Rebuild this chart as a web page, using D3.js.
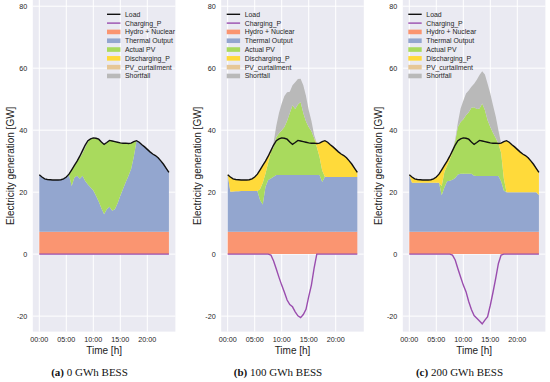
<!DOCTYPE html>
<html><head><meta charset="utf-8">
<script src="https://cdn.jsdelivr.net/npm/d3@7"></script>
<style>body{margin:0;background:#fff}svg{display:block}</style>
</head><body>
<svg id="c" width="550" height="382"></svg>
<script>
// ---------- data (GW), half-hourly ----------
const hours = [0,0.5,1,1.5,2,2.5,3,3.5,4,4.5,5,5.5,6,6.5,7,7.5,8,8.5,9,9.5,10,10.5,11,11.5,12,12.5,13,13.5,14,14.5,15,15.5,16,16.5,17,17.5,18,18.5,19,19.5,20,20.5,21,21.5,22,22.5,23,23.5,24];
const load = [25.6,24.9,24.3,24.1,24.0,23.9,23.9,23.9,24.0,24.3,24.9,25.8,27.2,28.6,30.0,31.6,33.4,35.2,36.6,37.2,37.5,37.4,37.1,36.2,35.4,36.0,36.7,36.5,36.3,36.1,35.9,35.8,35.8,35.7,35.8,36.3,36.6,36.1,35.3,34.6,33.8,33.0,32.3,31.8,31.1,30.1,29.0,27.7,26.4];
const hydroNuclear = [7.2,7.2,7.2,7.2,7.2,7.2,7.2,7.2,7.2,7.2,7.2,7.2,7.2,7.2,7.2,7.2,7.2,7.2,7.2,7.2,7.2,7.2,7.2,7.2,7.2,7.2,7.2,7.2,7.2,7.2,7.2,7.2,7.2,7.2,7.2,7.2,7.2,7.2,7.2,7.2,7.2,7.2,7.2,7.2,7.2,7.2,7.2,7.2,7.2];
const pvCurtailment = [0,0,0,0,0,0,0,0,0,0,0,0,0,0,0,0,0,0,0,0,0,0,0,0,0,0,0,0,0,0,0,0,0,0,0,0,0,0,0,0,0,0,0,0,0,0,0,0,0];

// (a) 0 GWh BESS
const thermalA = [18.4,17.7,17.1,16.9,16.8,16.7,16.7,16.7,16.8,17.1,17.7,18.3,14.8,17.5,18.1,17.1,18.1,16.4,15.3,14.3,13.3,11.6,9.8,7.6,5.7,7.3,8.1,6.8,7.3,9.2,11.6,13.8,16.0,18.0,20.3,24.2,29.4,28.9,28.1,27.4,26.6,25.8,25.1,24.6,23.9,22.9,21.8,20.5,19.2];
const pvA = [0,0,0,0,0,0,0,0,0,0,0,0.3,5.2,3.9,4.7,6.8,7.3,10.8,13.8,15.7,17.0,18.6,20.1,21.4,22.5,21.5,21.4,22.5,21.8,19.7,17.1,14.8,12.6,10.5,8.3,4.9,0,0,0,0,0,0,0,0,0,0,0,0,0];
const dischargeA = [0,0,0,0,0,0,0,0,0,0,0,0,0,0,0,0,0,0,0,0,0,0,0,0,0,0,0,0,0,0,0,0,0,0,0,0,0,0,0,0,0,0,0,0,0,0,0,0,0];
const shortfallA = [0,0,0,0,0,0,0,0,0,0,0,0,0,0,0,0.5,0.8,0.8,0.3,0,0,0,0,0,0,0,0,0,0,0,0,0,0,0,0,0,0,0,0,0,0,0,0,0,0,0,0,0,0];
const chargeA = [0,0,0,0,0,0,0,0,0,0,0,0,0,0,0,0,0,0,0,0,0,0,0,0,0,0,0,0,0,0,0,0,0,0,0,0,0,0,0,0,0,0,0,0,0,0,0,0,0];

// (b) 100 GWh BESS
const thermalB = [18.4,12.9,13.0,13.1,13.1,13.2,13.2,13.2,13.2,13.2,13.2,13.2,10.2,8.8,14.5,16.7,17.2,17.8,18.3,18.3,18.3,18.3,18.3,18.3,18.3,18.3,18.3,18.3,18.3,18.3,18.3,18.3,18.3,18.3,18.3,16.1,17.8,17.7,17.7,17.7,17.7,17.7,17.7,17.7,17.7,17.7,17.7,17.7,17.7];
const pvB = [0,0,0,0,0,0,0,0,0,0,0,0,3.6,7.0,4.3,5.6,8.6,9.5,12.3,13.5,14.5,15.5,17.5,20.0,22.5,21.3,22.8,23.6,20.0,17.3,15.5,14.2,12.0,9.1,5.9,3.7,0,0,0,0,0,0,0,0,0,0,0,0,0];
const dischargeB = [0,4.8,4.1,3.8,3.7,3.5,3.5,3.5,3.6,3.9,4.5,5.4,6.2,5.6,4.0,2.1,0.4,0,0,0,0,0,0,0,0,0,0,0,0,0,0,0,0,1.1,4.4,9.3,11.6,11.2,10.4,9.7,8.9,8.1,7.4,6.9,6.2,5.2,4.1,2.8,1.5];
const shortfallB = [0,0,0,0,0,0,0,0,0,0,0,0,0,0,0,0,0,1.5,3.6,6.5,8.6,10.0,9.2,6.9,6.5,8.7,8.2,7.5,9.0,8.2,5.5,3.3,1.0,0,0,0,0,0,0,0,0,0,0,0,0,0,0,0,0];
const chargeB = [0,0,0,0,0,0,0,0,0,0,0,0,0,0,0,0,-0.3,-2.2,-4.8,-7.5,-10.0,-12.3,-14.8,-16.3,-17.0,-18.6,-19.9,-20.5,-19.5,-17.8,-13.7,-10.0,-4.5,0,0,0,0,0,0,0,0,0,0,0,0,0,0,0,0];

// (c) 200 GWh BESS
const thermalC = [18.4,15.8,15.8,15.8,15.8,15.8,15.8,15.8,15.8,15.8,15.8,15.8,11.8,14.3,16.3,16.5,16.8,17.4,18.5,18.7,18.7,18.7,18.7,18.7,18.1,18.0,18.0,18.0,18.0,18.0,18.0,18.0,18.0,18.0,16.3,13.3,12.8,12.8,12.8,12.8,12.8,12.8,12.8,12.8,12.8,12.8,12.8,12.8,11.9];
const pvC = [0,0,0,0,0,0,0,0,0,0,0,0,3.0,5.0,5.0,6.8,9.0,11.9,15.3,16.7,17.6,18.9,19.9,21.3,22.1,21.6,21.8,23.4,21.3,18.0,15.8,14.0,12.3,10.3,9.3,4.0,0,0,0,0,0,0,0,0,0,0,0,0,0];
const dischargeC = [0,1.9,1.3,1.1,1.0,0.9,0.9,0.9,1.0,1.3,1.9,2.8,5.2,2.1,1.5,1.1,0.4,0,0,0,0,0,0,0,0,0,0,0,0,0,0,0,0,0.2,3.0,11.8,16.6,16.1,15.3,14.6,13.8,13.0,12.3,11.8,11.1,10.1,9.0,7.7,7.3];
const shortfallC = [0,0,0,0,0,0,0,0,0,0,0,0,0,0,0,0,0,0.5,1.5,4.4,6.0,7.0,7.0,6.8,7.6,9.5,10.8,10.4,11.5,11.8,10.8,8.8,7.0,4.3,0,0,0,0,0,0,0,0,0,0,0,0,0,0,0];
const chargeC = [0,0,0,0,0,0,0,0,0,0,0,0,0,0,0,0,-0.3,-1.9,-4.7,-7.4,-10.0,-12.1,-15.3,-17.9,-19.8,-20.7,-21.6,-22.5,-21.3,-20.2,-16.5,-12.3,-7.8,-3.0,-0.3,0,0,0,0,0,0,0,0,0,0,0,0,0,0];

const xTicks = [0,5,10,15,20];
const xTickLabels = ["00:00","05:00","10:00","15:00","20:00"];
const yTicks = [-20,0,20,40,60,80];
const legendLabels = ["Load","Charging_P","Hydro + Nuclear","Thermal Output","Actual PV","Discharging_P","PV_curtailment","Shortfall"];
const captions = [["(a)"," 0 GWh BESS"],["(b)"," 100 GWh BESS"],["(c)"," 200 GWh BESS"]];

// ---------- styling ----------
const colors = {hydro:"#FA9571", thermal:"#93A6CF", pv:"#A9DA5D", discharge:"#FFDA3A", curtail:"#E6C797", shortfall:"#B9B9B9", load:"#111", charge:"#9A4DAE"};
const keys = ["hydro","thermal","pv","discharge","curtail","shortfall"];
const panels = [
  {left:32.8, thermal:thermalA, pv:pvA, discharge:dischargeA, shortfall:shortfallA, charge:chargeA, legX:107, ylabX:14, capX:89.5},
  {left:221.2, thermal:thermalB, pv:pvB, discharge:dischargeB, shortfall:shortfallB, charge:chargeB, legX:226.7, ylabX:200.5, capX:278},
  {left:402.8, thermal:thermalC, pv:pvC, discharge:dischargeC, shortfall:shortfallC, charge:chargeC, legX:408.3, ylabX:382, capX:459.5}
];
const W = 142.6, plotTop = 0, plotBottom = 331.6;
const svg = d3.select("#c");
const font = "'Liberation Sans', Arial, Helvetica, sans-serif";

const y = d3.scaleLinear().domain([-25, 82]).range([plotBottom, plotTop]);

panels.forEach((p, pi) => {
  const x = d3.scaleLinear().domain([-1.2, 25.2]).range([p.left, p.left + W]);
  const g = svg.append("g");
  g.append("rect").attr("x", p.left).attr("y", plotTop).attr("width", W).attr("height", plotBottom - plotTop).attr("fill", "#EAEAF2");
  g.selectAll(".vg").data(xTicks).join("line").attr("x1", d => x(d)).attr("x2", d => x(d)).attr("y1", plotTop).attr("y2", plotBottom).attr("stroke", "#fff").attr("stroke-width", 1);
  g.selectAll(".hg").data(yTicks).join("line").attr("y1", d => y(d)).attr("y2", d => y(d)).attr("x1", p.left).attr("x2", p.left + W).attr("stroke", "#fff").attr("stroke-width", 1);

  const rows = hours.map((h, i) => ({h, hydro: hydroNuclear[i], thermal: p.thermal[i], pv: p.pv[i], discharge: p.discharge[i], curtail: pvCurtailment[i], shortfall: p.shortfall[i]}));
  const series = d3.stack().keys(keys)(rows);
  const area = d3.area().x(d => x(d.data.h)).y0(d => y(d[0])).y1(d => y(d[1]));
  g.selectAll(".ar").data(series).join("path").attr("d", area).attr("fill", d => colors[d.key]);

  const line = d3.line().x((d, i) => x(hours[i])).y(d => y(d));
  g.append("path").attr("d", line(p.charge)).attr("fill", "none").attr("stroke", colors.charge).attr("stroke-width", 1.4);
  g.append("path").attr("d", line(load)).attr("fill", "none").attr("stroke", colors.load).attr("stroke-width", 1.4);

  g.selectAll(".xt").data(xTicks).join("text").attr("x", d => x(d)).attr("y", 341.5).attr("text-anchor", "middle")
    .attr("font-family", font).attr("font-size", 7.2).attr("fill", "#262626").text((d, i) => xTickLabels[i]);
  g.selectAll(".yt").data(yTicks).join("text").attr("x", p.left - 5.5).attr("y", d => y(d)).attr("dy", "0.35em").attr("text-anchor", "end")
    .attr("font-family", font).attr("font-size", 7.2).attr("fill", "#262626").text(d => d);
  g.append("text").attr("x", p.left + W / 2).attr("y", 353.5).attr("text-anchor", "middle").attr("font-family", font).attr("font-size", 10).attr("fill", "#222").text("Time [h]");
  g.append("text").attr("transform", `translate(${p.ylabX},${(plotTop + plotBottom) / 2}) rotate(-90)`).attr("text-anchor", "middle")
    .attr("font-family", font).attr("font-size", 10).attr("fill", "#222").text("Electricity generation [GW]");

  const lg = g.append("g");
  const legendKinds = [["line", colors.load], ["line", colors.charge], ["rect", colors.hydro], ["rect", colors.thermal], ["rect", colors.pv], ["rect", colors.discharge], ["rect", colors.curtail], ["rect", colors.shortfall]];
  legendLabels.forEach((lab, i) => {
    const yy = 14.3 + i * 8.81;
    const [kind, col] = legendKinds[i];
    if (kind === "line") lg.append("line").attr("x1", p.legX).attr("x2", p.legX + 13.4).attr("y1", yy).attr("y2", yy).attr("stroke", col).attr("stroke-width", 1.4);
    else lg.append("rect").attr("x", p.legX).attr("y", yy - 2.3).attr("width", 13.4).attr("height", 4.6).attr("fill", col);
    lg.append("text").attr("x", p.legX + 18).attr("y", yy).attr("dy", "0.35em").attr("font-family", font).attr("font-size", 6.9).attr("fill", "#262626").text(lab);
  });

  const cap = svg.append("text").attr("x", p.capX).attr("y", 375.5).attr("text-anchor", "middle").attr("font-family", "'Liberation Serif', 'Times New Roman', serif").attr("font-size", 11).attr("fill", "#111");
  cap.append("tspan").attr("font-weight", "bold").text(captions[pi][0]);
  cap.append("tspan").attr("font-weight", "normal").text(captions[pi][1]);
});
</script>
</body></html>
